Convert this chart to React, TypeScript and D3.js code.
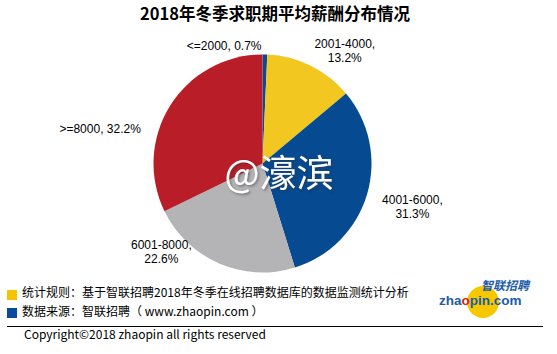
import React from "react";
import * as d3 from "d3";

const categories = ["<=2000", "2001-4000", "4001-6000", "6001-8000", ">=8000"];
const values = [0.7, 13.2, 31.3, 22.6, 32.2];
const colors = ["#0A4A93", "#F2C71F", "#064A91", "#B4B4B6", "#B81D28"];
const title = "2018年冬季求职期平均薪酬分布情况";
const footnotes = [
  "统计规则：基于智联招聘2018年冬季在线招聘数据库的数据监测统计分析",
  "数据来源：智联招聘（ www.zhaopin.com ）",
];
const footColors = ["#F5C400", "#0A4A9A"];
const copyright = "Copyright©2018 zhaopin all rights reserved";

// label layout: angle (deg, clockwise from top) and distance from center
const labelLayout = [
  { a: 342, r: 124, lines: 1 },
  { a: 36, r: 140, lines: 2 },
  { a: 106, r: 156, lines: 2 },
  { a: 229, r: 134, lines: 2 },
  { a: 282, r: 166, lines: 1 },
];

const W = 557;
const H = 354;
const cx = 262.5;
const cy = 163.5;
const R = 109;
const font = "'Noto Sans CJK SC', 'Noto Sans', sans-serif";
const labelFont = "'Liberation Sans', Arial, sans-serif";

export default function App() {
  const pie = d3
    .pie<number>()
    .sort(null)
    .value((d) => d)
    .startAngle(0)
    .endAngle(2 * Math.PI);
  const arcs = pie(values);
  const arc = d3.arc<d3.PieArcDatum<number>>().innerRadius(0).outerRadius(R);

  return (
    <svg
      width={W}
      height={H}
      style={{ position: "absolute", left: 0, top: 0, background: "#fff" }}
      fontFamily={font}
    >
      <defs>
        <filter id="sh" x="-20%" y="-20%" width="140%" height="140%">
          <feDropShadow dx="1.5" dy="1.5" stdDeviation="1.2" floodColor="#333" floodOpacity="0.5" />
        </filter>
      </defs>
      <rect width={W} height={H} fill="#fff" />
      <text x={275} y={20} textAnchor="middle" fontSize={16.5} fontWeight="bold" fill="#000">
        {title}
      </text>
      <g transform={`translate(${cx},${cy})`}>
        {arcs.map((a, i) => (
          <path key={i} d={arc(a) || ""} fill={colors[i]} />
        ))}
      </g>
      {arcs.map((a, i) => {
        const L = labelLayout[i];
        const t = (L.a * Math.PI) / 180;
        const x = cx + Math.sin(t) * L.r;
        const y = cy - Math.cos(t) * L.r;
        const pct = values[i].toFixed(1) + "%";
        if (L.lines === 1) {
          return (
            <text key={i} x={x} y={y + 4.5} textAnchor="middle" fontSize={12} fill="#000" fontFamily={labelFont}>
              {categories[i] + ", " + pct}
            </text>
          );
        }
        return (
          <g key={i} fontFamily={labelFont}>
            <text x={x} y={y - 2.5} textAnchor="middle" fontSize={12} fill="#000">
              {categories[i] + ","}
            </text>
            <text x={x} y={y + 11.5} textAnchor="middle" fontSize={12} fill="#000">
              {pct}
            </text>
          </g>
        );
      })}
      <text
        x={279}
        y={187}
        textAnchor="middle"
        fontSize={37}
        fill="#fff"
        filter="url(#sh)"
        fontFamily="'Noto Sans CJK SC', sans-serif"
      >
        @濠滨
      </text>

      {footnotes.map((f, i) => (
        <g key={i}>
          <rect x={7} y={290 + i * 18} width={10} height={10} fill={footColors[i]} />
          <text x={22} y={297 + i * 19} fontSize={12} fill="#000">
            {f}
          </text>
        </g>
      ))}

      {/* logo */}
      <circle cx={483} cy={302} r={16} fill="#F5C800" />
      <text x={481} y={290} fontSize={12} fontWeight="bold" fontStyle="italic" fill="#1B5BA8">
        智联招聘
      </text>
      <text x={439} y={305} fontSize={13.5} fontWeight="bold" fill="#1B5BA8" fontFamily="'Liberation Sans', Arial, sans-serif">
        zha<tspan fill="#D42020">o</tspan>pin.com
      </text>

      <line x1={7} x2={543} y1={326.5} y2={326.5} stroke="#000" strokeWidth={1} />
      <text x={24} y={339} fontSize={12} fill="#000">
        {copyright}
      </text>
    </svg>
  );
}
